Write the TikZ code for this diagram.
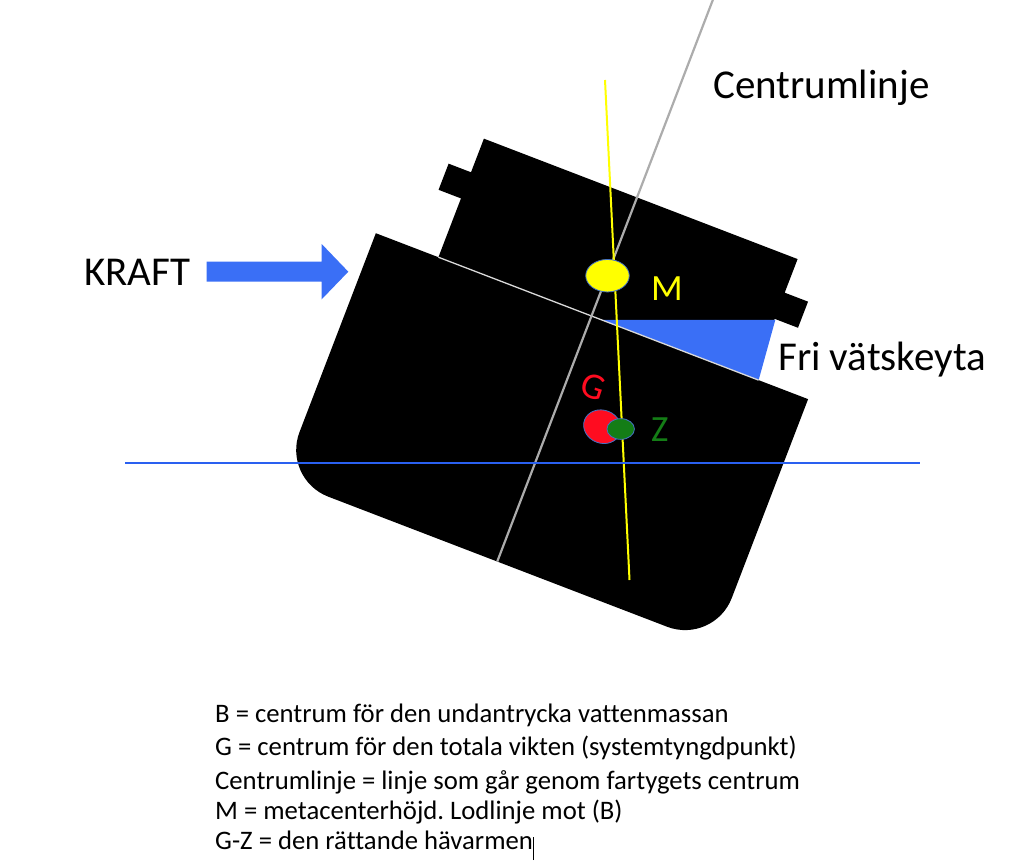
\documentclass[tikz,border=0pt]{standalone}
\usepackage{fontspec}
\setmainfont{Carlito}[Ligatures=NoCommon]
\usetikzlibrary{shapes.geometric}
\frenchspacing
\definecolor{kblue}{RGB}{58,111,246}
\definecolor{hblue}{RGB}{42,96,240}
\definecolor{cgrey}{RGB}{172,172,172}
\definecolor{myyellow}{RGB}{255,255,0}
\definecolor{myred}{RGB}{255,12,32}
\definecolor{mygreen}{RGB}{20,125,22}
\definecolor{outl}{RGB}{68,114,196}
\tikzset{
  big/.style={anchor=base west, inner sep=0pt, font=\fontsize{41}{41}\selectfont},
  lbl/.style={inner sep=0pt, font=\fontsize{37}{37}\selectfont},
  legend/.style={anchor=base west, inner sep=0pt, font=\fontsize{26.7}{26.7}\selectfont},
  dot/.style={ellipse, inner sep=0pt, draw=outl, line width=0.8pt},
}
\begin{document}
\begin{tikzpicture}[x=1pt, y=-1pt]
\useasboundingbox (0,0) rectangle (1024,861);
\clip (0,0) rectangle (1024,861);
% ship in its own frame: u to starboard, w downward, origin where centre line meets deck
\begin{scope}[shift={(591.5,316)}, rotate=-21]
  % hull
  \fill[black] (0,0) -- (232,0) [rounded corners=50pt] -- (232,263) -- (-231,263)
        [sharp corners] -- (-231,0) -- cycle;
  % superstructure / tank
  \fill[black] (-164,0) -- (-164,-63) -- (-188,-63) -- (-188,-91) -- (-164,-91)
        -- (-164,-127) -- (172,-127) -- (172,-91) -- (197,-91) -- (197,-63)
        -- (172,-63) -- (172,0) -- cycle;
  % free liquid surface
  \fill[kblue] (11,0) -- (173,-62.2) -- (179,0) -- cycle;
  % deck line
  \draw[white!85!black, line width=1.3pt] (-164,0) -- (179,0);
  % centre line
  \coordinate (cltop) at (0,-345);
  \coordinate (clbot) at (0,263);
  \draw[cgrey, line width=2.2pt] (cltop) -- (clbot);
\end{scope}
% vertical (plumb) line
\coordinate (ytop) at (605,80);
\coordinate (ybot) at (629.5,580);
\draw[myyellow, line width=2pt] (ytop) -- (ybot);
% waterline
\coordinate (wl) at (125,463);
\coordinate (wr) at (920,463);
\draw[hblue, line width=1.6pt] (wl) -- (wr);
% points
\node[dot, fill=myyellow, minimum width=43.5pt, minimum height=32.5pt] (Mdot) at (607.5,275.7) {};
\node[dot, fill=myred, minimum width=38pt, minimum height=33pt, rotate=-21] (Gdot) at (602.3,426.7) {};
\node[dot, fill=mygreen, minimum width=27.5pt, minimum height=20.7pt] (Zdot) at (620.7,429) {};
% labels
\node[lbl, anchor=base west, text=myyellow] (Mlab) at (651,300) {M};
\node[lbl, anchor=base west, text=mygreen] (Zlab) at (651,441.7) {Z};
\node[lbl, text=myred, rotate=-18] (Glab) at (593,386.5) {G};
% force arrow
\fill[kblue] (206.7,261.7) -- (321.7,261.7) -- (321.7,244) -- (348.3,271.7)
      -- (321.7,299.3) -- (321.7,281.7) -- (206.7,281.7) -- cycle;
\node[big] (kraft) at (84,285) {KRAFT};
\node[big] (cl) at (713,98.3) {Centrumlinje};
\node[big] (fri) at (778,370) {Fri vätskeyta};
% legend
\node[legend] (l1) at (215,722) {B = centrum för den undantrycka vattenmassan};
\node[legend] (l2) at (215,755.7) {G = centrum för den totala vikten (systemtyngdpunkt)};
\node[legend] (l3) at (215,789) {Centrumlinje = linje som går genom fartygets centrum};
\node[legend] (l4) at (215,819) {M = metacenterhöjd. Lodlinje mot (B)};
\node[legend] (l5) at (215,849) {G-Z = den rättande hävarmen\rule[-11pt]{1pt}{23.5pt}};
\end{tikzpicture}
\end{document}
